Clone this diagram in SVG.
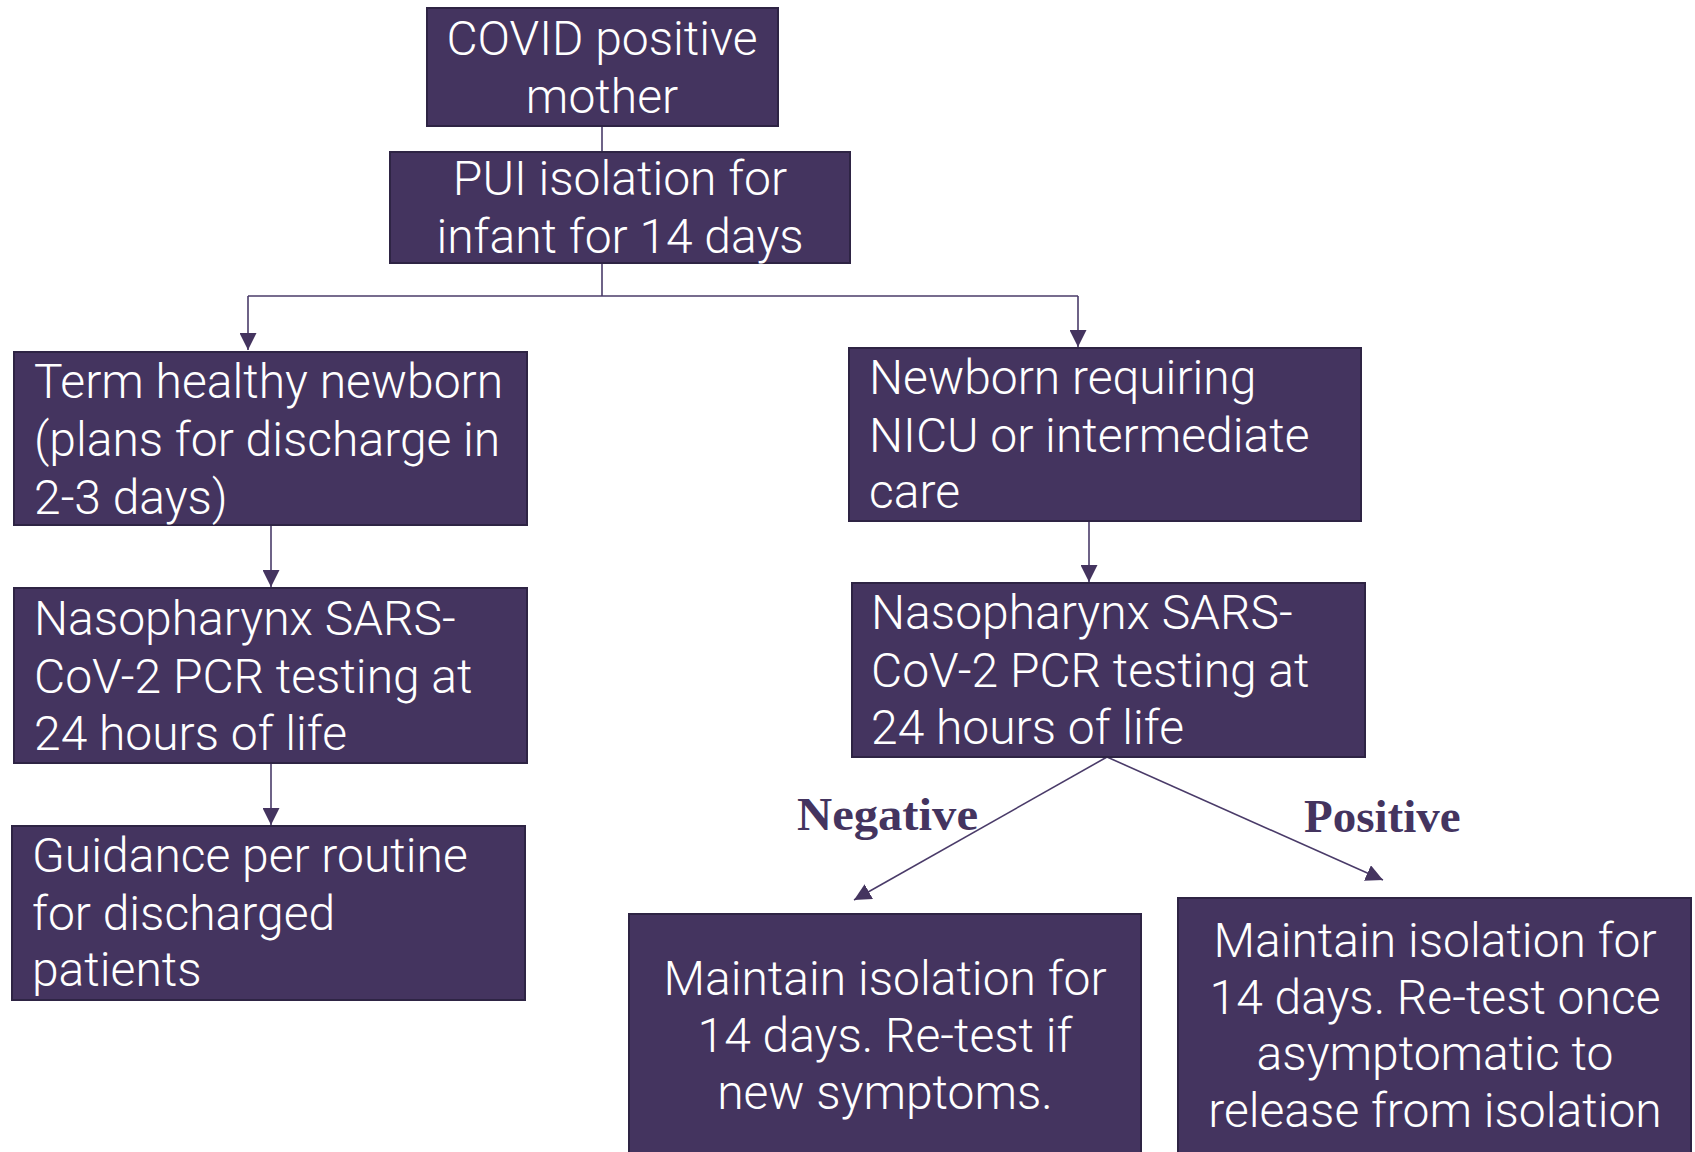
<svg xmlns="http://www.w3.org/2000/svg" width="1695" height="1152" viewBox="0 0 1695 1152">
<defs>
<style>
.box{fill:#44345F;stroke:#2E2444;stroke-width:2}
.t{font-family:"Roboto Light",Roboto,"Liberation Sans",sans-serif;font-weight:300;font-size:48px;fill:#FFFFFF}
.c{text-anchor:middle}
.lbl{font-family:"Liberation Serif","DejaVu Serif",serif;font-weight:bold;font-size:47px;fill:#44345F}
.ln{fill:none;stroke:#4A3B69;stroke-width:1.6}
</style>
<marker id="ah" markerUnits="userSpaceOnUse" markerWidth="17" markerHeight="17" viewBox="0 0 10 10" refX="10" refY="5" orient="auto">
<path d="M0,0 L10,5 L0,10 z" fill="#44345F"/>
</marker>
</defs>
<rect width="1695" height="1152" fill="#FFFFFF"/>
<g id="connectors">
<line class="ln" x1="602" y1="126" x2="602" y2="152"/>
<polyline class="ln" points="602,263 602,296"/>
<line class="ln" x1="248" y1="296" x2="1078" y2="296"/>
<line class="ln" x1="248" y1="296" x2="248" y2="350" marker-end="url(#ah)"/>
<line class="ln" x1="1078" y1="296" x2="1078" y2="347" marker-end="url(#ah)"/>
<line class="ln" x1="271" y1="525" x2="271" y2="587" marker-end="url(#ah)"/>
<line class="ln" x1="271" y1="763" x2="271" y2="825" marker-end="url(#ah)"/>
<line class="ln" x1="1089" y1="521" x2="1089" y2="582" marker-end="url(#ah)"/>
<line class="ln" x1="1107" y1="757" x2="854" y2="900" marker-end="url(#ah)"/>
<line class="ln" x1="1107" y1="757" x2="1383" y2="880" marker-end="url(#ah)"/>
<text class="lbl" x="797" y="830" textLength="181" lengthAdjust="spacingAndGlyphs">Negative</text>
<text class="lbl" x="1304" y="832">Positive</text>
</g>
<g id="covid-mother">
<rect class="box" x="427" y="8" width="351" height="118"/>
<text class="t c" x="602" y="55">COVID positive</text>
<text class="t c" x="602" y="113">mother</text>
</g>
<g id="pui-isolation">
<rect class="box" x="390" y="152" width="460" height="111"/>
<text class="t c" x="620" y="195">PUI isolation for</text>
<text class="t c" x="620" y="253">infant for 14 days</text>
</g>
<g id="term-healthy">
<rect class="box" x="14" y="352" width="513" height="173"/>
<text class="t" x="34" y="398">Term healthy newborn</text>
<text class="t" x="34" y="456">(plans for discharge in</text>
<text class="t" x="34" y="514">2-3 days)</text>
</g>
<g id="nicu">
<rect class="box" x="849" y="348" width="512" height="173"/>
<text class="t" x="869" y="394">Newborn requiring</text>
<text class="t" x="869" y="452">NICU or intermediate</text>
<text class="t" x="869" y="508">care</text>
</g>
<g id="pcr-left">
<rect class="box" x="14" y="588" width="513" height="175"/>
<text class="t" x="34" y="635">Nasopharynx SARS-</text>
<text class="t" x="34" y="693">CoV-2 PCR testing at</text>
<text class="t" x="34" y="750">24 hours of life</text>
</g>
<g id="pcr-right">
<rect class="box" x="852" y="583" width="513" height="174"/>
<text class="t" x="871" y="629">Nasopharynx SARS-</text>
<text class="t" x="871" y="687">CoV-2 PCR testing at</text>
<text class="t" x="871" y="744">24 hours of life</text>
</g>
<g id="guidance">
<rect class="box" x="12" y="826" width="513" height="174"/>
<text class="t" x="32" y="872">Guidance per routine</text>
<text class="t" x="32" y="930">for discharged</text>
<text class="t" x="32" y="986">patients</text>
</g>
<g id="negative-result">
<rect class="box" x="629" y="914" width="512" height="250"/>
<text class="t c" x="885" y="995">Maintain isolation for</text>
<text class="t c" x="885" y="1052">14 days. Re-test if</text>
<text class="t c" x="885" y="1109">new symptoms.</text>
</g>
<g id="positive-result">
<rect class="box" x="1178" y="898" width="513" height="266"/>
<text class="t c" x="1435" y="957">Maintain isolation for</text>
<text class="t c" x="1435" y="1014">14 days. Re-test once</text>
<text class="t c" x="1435" y="1070">asymptomatic to</text>
<text class="t c" x="1435" y="1127">release from isolation</text>
</g>
</svg>
